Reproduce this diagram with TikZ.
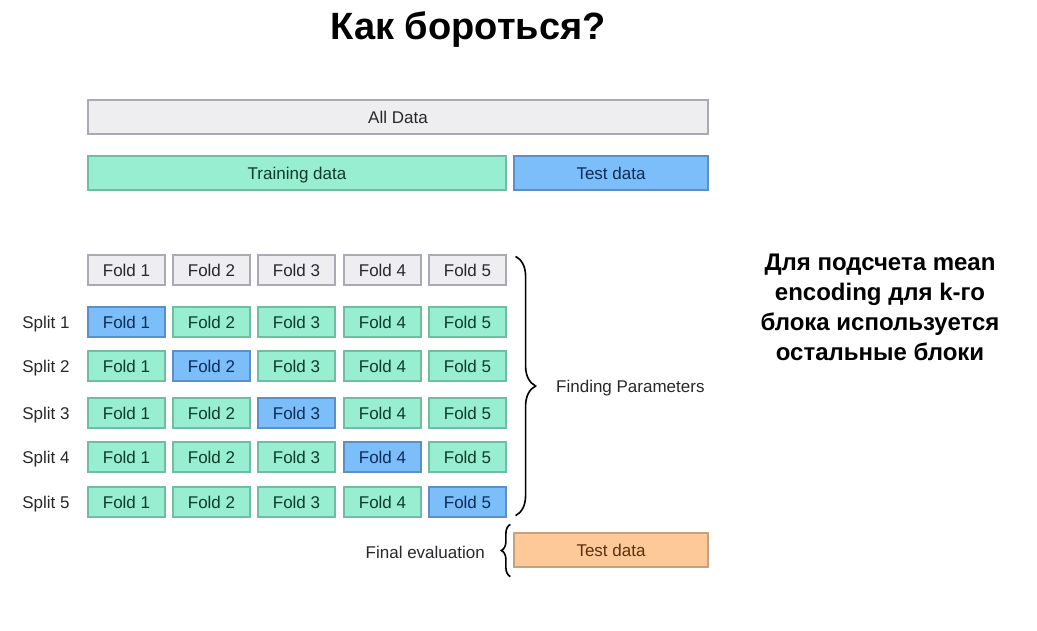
\documentclass[tikz,border=0pt]{standalone}
\usepackage{fontspec}
\setmainfont{Liberation Sans}
\usetikzlibrary{decorations.pathreplacing,calc}

\definecolor{grayfill}{RGB}{238,238,241}
\definecolor{grayline}{RGB}{170,170,180}
\definecolor{grayink}{RGB}{40,40,44}
\definecolor{trainfill}{RGB}{152,238,208}
\definecolor{trainline}{RGB}{112,190,160}
\definecolor{trainink}{RGB}{14,60,42}
\definecolor{testfill}{RGB}{124,190,250}
\definecolor{testline}{RGB}{92,142,200}
\definecolor{testink}{RGB}{12,44,86}
\definecolor{evalfill}{RGB}{253,201,152}
\definecolor{evalline}{RGB}{200,160,122}
\definecolor{evalink}{RGB}{90,48,16}

\begin{document}
\begin{tikzpicture}[x=1pt,y=-1pt,
  cell/.style={rectangle, line width=1.2pt, inner sep=0pt,
    text height=12pt, text depth=0pt,
    font=\fontsize{17}{19}\selectfont},
  graycell/.style={cell, draw=grayline, fill=grayfill, text=grayink},
  traincell/.style={cell, draw=trainline, fill=trainfill, text=trainink},
  testcell/.style={cell, draw=testline, fill=testfill, text=testink},
  evalcell/.style={cell, draw=evalline, fill=evalfill, text=evalink},
  fold/.style={minimum width=77pt, minimum height=30pt},
  bar/.style={minimum height=34pt},
  sidelabel/.style={font=\fontsize{17}{19}\selectfont, text=grayink, inner sep=0pt,
    text height=12pt, text depth=0pt},
  curly/.style={decorate, line width=1.6pt, draw=black},
]
\useasboundingbox (0,0) rectangle (1037,630);

% title and note
\node (title) at (468,30) {\fontsize{38}{42}\selectfont\bfseries Как бороться?};
\node[align=center, font=\fontsize{24}{30}\selectfont\bfseries] (note) at (880,307)
  {Для подсчета mean\\encoding для k-го\\блока используется\\остальные блоки};

% whole data set and its split
\node[graycell, bar, minimum width=620pt] (all) at (398,117) {All Data};
\node[traincell, bar, minimum width=418pt] (train) at (297,173) {Training data};
\node[testcell, bar, minimum width=194pt] (test) at (611,173) {Test data};

% fold header row
\foreach \c/\x in {1/126.5,2/211.5,3/296.5,4/382.5,5/467.5}
  \node[graycell, fold] (h\c) at (\x,270) {Fold \c};

% cross-validation splits
\foreach \r/\y in {1/322,2/366,3/413,4/457,5/502}{
  \node[sidelabel] (s\r) at (46,\y) {Split \r};
  \foreach \c/\x in {1/126.5,2/211.5,3/296.5,4/382.5,5/467.5}{
    \ifnum\c=\r
      \node[testcell, fold] (f\r\c) at (\x,\y) {Fold \c};
    \else
      \node[traincell, fold] (f\r\c) at (\x,\y) {Fold \c};
    \fi
  }
}

% parameter search brace
\draw[curly, decoration={brace, amplitude=20pt}]
  ($(h5.north east)+(9,2)$) -- ($(f55.south east)+(9,-2)$);
\node[sidelabel, anchor=west] (params) at (556,386) {Finding Parameters};

% final evaluation
\node[evalcell, bar, minimum width=194pt] (final) at (611,550) {Test data};
\draw[curly, decoration={brace, amplitude=9pt}]
  ($(final.south west)+(-3,9)$) -- ($(final.north west)+(-3,-8)$);
\node[sidelabel, anchor=east] (evallabel) at (485,552) {Final evaluation};
\end{tikzpicture}
\end{document}
